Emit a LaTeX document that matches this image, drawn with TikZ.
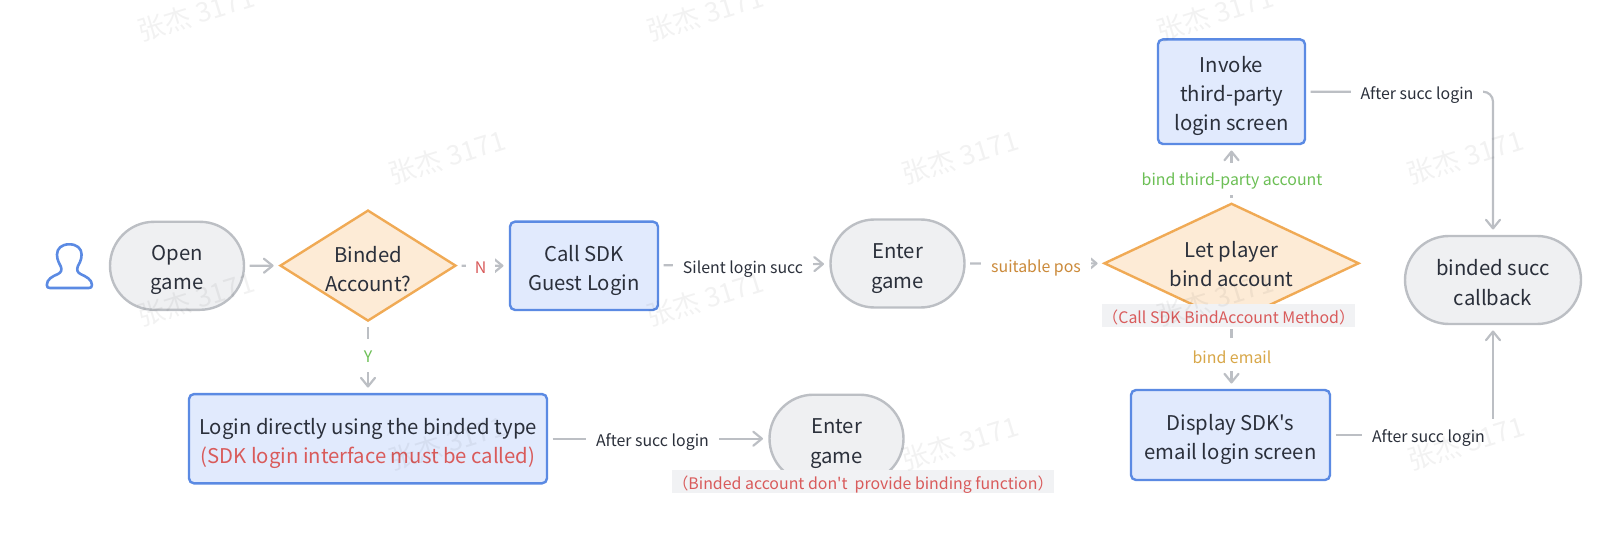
\documentclass[tikz,border=0pt]{standalone}
\usepackage{fontspec}
\newfontfamily\nsc{Noto Sans CJK SC}
\usetikzlibrary{arrows.meta,shapes.geometric,shapes.misc}
\definecolor{bluestroke}{HTML}{5B8AE3}
\definecolor{bluefill}{HTML}{E1EAFD}
\definecolor{graystroke}{HTML}{BCBFC4}
\definecolor{grayfill}{HTML}{EFF0F2}
\definecolor{orangestroke}{HTML}{F0AA55}
\definecolor{orangefill}{HTML}{FDEBD6}
\definecolor{inktext}{HTML}{2B303B}
\definecolor{redtext}{HTML}{D95B5B}
\definecolor{greentext}{HTML}{6CBF55}
\definecolor{ambertext}{HTML}{CB8A3A}
\definecolor{yellowtext}{HTML}{D8A748}
\definecolor{notebg}{HTML}{F1F2F4}
\tikzset{
  x=1pt,y=-1pt,
  bodytext/.style={font=\nsc\fontsize{20.3}{29.3}\selectfont,text=inktext,align=center},
  captioned/.style 2 args={label={[bodytext,yshift=#1]center:#2}},
  stadium/.style={rounded rectangle,draw=graystroke,fill=grayfill,line width=2.4pt,inner sep=0pt,minimum height=88pt,minimum width=134pt},
  bluebox/.style={rectangle,rounded corners=5pt,draw=bluestroke,fill=bluefill,line width=2.4pt,inner sep=0pt},
  decision/.style={diamond,draw=orangestroke,fill=orangefill,line width=2.4pt,inner sep=0pt},
  conn/.style={draw=graystroke,line width=2.2pt,shorten >=5.3pt,shorten <=4.5pt,-{Straight Barb[length=8.6pt,width=14pt,round]}},
  edgelabel/.style={font=\nsc\fontsize{15.9}{18}\selectfont,text=inktext,fill=white,inner xsep=10pt,inner ysep=9pt,text height=14pt,text depth=4pt},
  notelabel/.style={font=\nsc\fontsize{15.9}{18}\selectfont,text=redtext,fill=notebg,inner xsep=0pt,inner ysep=1.75pt,text height=18pt,text depth=1pt},
  stamp/.style={font=\nsc\fontsize{27}{30}\selectfont,text=black,opacity=0.05,rotate=17}
}
\begin{document}
\begin{tikzpicture}
\useasboundingbox (0,0) rectangle (1620,540);
% person icon
\draw[bluestroke,line width=2.6pt,line join=round,line cap=round]
  (69.3,244.3) .. controls (61.5,244.3) and (57,248.5) .. (57,254.5)
  .. controls (57,260.5) and (59.5,263.5) .. (60.8,266.5)
  .. controls (62.3,270) and (61,272.5) .. (58,274)
  .. controls (52,276.5) and (46.8,279.5) .. (46.8,285)
  .. controls (46.8,287.2) and (48,288) .. (50,288)
  -- (88.8,288)
  .. controls (90.8,288) and (92,287.2) .. (92,285)
  .. controls (92,279.5) and (86,276.5) .. (80.5,274)
  .. controls (77.5,272.5) and (76.5,270) .. (77.8,266.5)
  .. controls (79,263.5) and (81.6,260.5) .. (81.6,254.5)
  .. controls (81.6,248.5) and (77,244.3) .. (69.3,244.3) -- cycle;
% nodes
\node[stadium,captioned={-4.2pt}{Open\\game}] (open) at (177,265.8) {};
\node[decision,minimum width=176pt,minimum height=111pt,aspect=1.586,
  captioned={-3.8pt}{Binded\\Account?}] (d1) at (368,265.6) {};
\node[bluebox,minimum width=148pt,minimum height=88.3pt,captioned={-4.6pt}{Call SDK\\Guest Login}] (guest) at (584,265.8) {};
\node[bluebox,minimum width=358pt,minimum height=89.3pt,captioned={-4.6pt}{Login directly using the binded type\\\textcolor{redtext}{(SDK login interface must be called)}}] (direct) at (368,438.7) {};
\node[stadium,captioned={-5pt}{Enter\\game}] (enter1) at (897.5,263.5) {};
\node[stadium,captioned={-5pt}{Enter\\game}] (enter2) at (836.5,438.7) {};
\node[bluebox,minimum width=147pt,minimum height=104.7pt,captioned={-4.2pt}{Invoke\\third-party\\login screen}] (invoke) at (1231.5,91.7) {};
\node[decision,minimum width=255pt,minimum height=120pt,aspect=2.125,
  captioned={-1pt}{Let player\\bind account}] (d2) at (1231.5,263.3) {};
\node[stadium,minimum width=176pt,captioned={-2.6pt}{binded succ\\callback}] (done) at (1493,280) {};
\node[bluebox,minimum width=199pt,minimum height=90pt,captioned={-4.6pt}{Display SDK's\\email login screen}] (email) at (1230.5,435) {};
% connectors
\draw[conn] (open) -- (d1);
\draw[conn] (d1) -- (guest);
\draw[conn] (d1) -- (direct);
\draw[conn] (guest) -- (enter1);
\draw[conn] (direct) -- (enter2);
\draw[conn] (enter1) -- (d2);
\draw[conn] (d2) -- (invoke);
\draw[conn] (d2.south) -- (email.north-|d2.south);
\draw[conn,rounded corners=10pt] (invoke) -| (done);
\draw[conn] (email) -| (done);
% edge labels
\node[edgelabel,text=redtext,inner xsep=8.5pt] (ln) at (480.5,268) {N};
\node[edgelabel,text=greentext,inner ysep=7.5pt,text height=16pt,text depth=2pt] (ly) at (368,355) {Y};
\node[edgelabel] (ls) at (743,268.5) {Silent login succ};
\node[edgelabel] (la1) at (652.5,441) {After succ login};
\node[edgelabel,text=ambertext] (lp) at (1036,267.5) {suitable pos};
\node[edgelabel,text=greentext,inner ysep=7pt,text height=15.5pt,text depth=2.5pt] (lt) at (1232,179) {bind third-party account};
\node[edgelabel,text=yellowtext,inner ysep=7.5pt,text height=17.8pt,text depth=0.2pt] (le) at (1232,354.7) {bind email};
\node[edgelabel] (la2) at (1417,95) {After succ login};
\node[edgelabel] (la3) at (1428.5,437) {After succ login};
% grey notes
\node[notelabel,minimum width=382pt] (n1) at (863,481.3) {（Binded account don't\ \ provide binding function）};
\node[notelabel,minimum width=253.5pt,text height=17pt,text depth=2pt] (n2) at (1228.7,315.5) {（Call SDK BindAccount Method）};
% watermarks
\foreach \wx/\wy/\wn in {196/14/a,705/14/b,1215/14/c,447/157/d,960/157/e,1465/157/f,196/299/g,705/299/h,1215/299/i,447/443/j,960/443/k,1466/443/l}
  \node[stamp] (w\wn) at (\wx,\wy) {张杰 3171};
\end{tikzpicture}
\end{document}
